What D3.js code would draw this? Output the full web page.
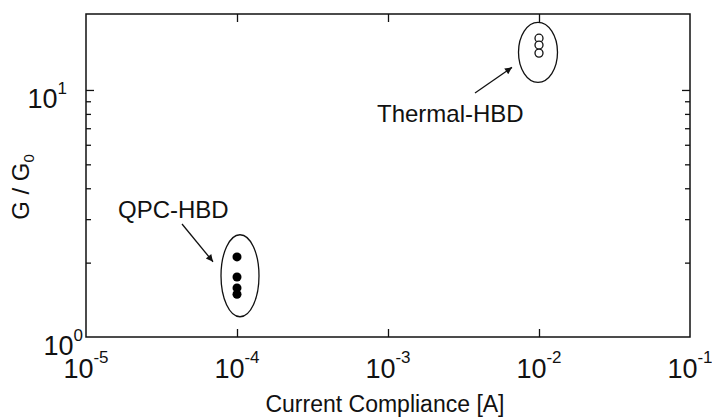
<!DOCTYPE html>
<html>
<head>
<meta charset="utf-8">
<script src="https://cdn.jsdelivr.net/npm/d3@7"></script>
<style>
    body { margin: 0; background: #fff; }
    svg { display: block; font-family: "Liberation Sans", Arial, Helvetica, sans-serif; }
    .axis path { display: none; }
    .axis line { stroke: #111; stroke-width: 1.3; }
</style>
</head>
<body>
<div id="chart"></div>
<script>
// x axis decades (current compliance, A)
const xTicks = [1e-5, 1e-4, 1e-3, 1e-2, 1e-1];
const xExponents = ["-5", "-4", "-3", "-2", "-1"];
// y axis decades (G / G0)
const yTicks = [1, 10];
const yExponents = ["0", "1"];
const yMinorTicks = [2, 3, 4, 5, 6, 7, 8, 9];

// QPC-HBD, filled circles
const qpcCompliance = [1e-4, 1e-4, 1e-4, 1e-4];
const qpcG = [2.11, 1.75, 1.58, 1.49];

// Thermal-HBD, open circles
const thermalCompliance = [1e-2, 1e-2, 1e-2];
const thermalG = [16.2, 15.2, 14.1];

const width = 712, height = 420;
const margin = { left: 86, right: 22, top: 14, bottom: 83 };

const svg = d3.select("#chart").append("svg")
    .attr("width", width)
    .attr("height", height);

const x = d3.scaleLog()
    .domain([1e-5, 1e-1])
    .range([margin.left, width - margin.right]);

const y = d3.scaleLog()
    .domain([1, 20.3])
    .range([height - margin.bottom, margin.top]);

const x0 = margin.left, x1 = width - margin.right;
const y0 = height - margin.bottom, y1 = margin.top;

// inward ticks on all four sides
svg.append("g").attr("class", "axis")
    .attr("transform", `translate(0,${y0})`)
    .call(d3.axisBottom(x).tickValues(xTicks.slice(1, -1)).tickSize(-8).tickFormat(""));
svg.append("g").attr("class", "axis")
    .attr("transform", `translate(0,${y1})`)
    .call(d3.axisTop(x).tickValues(xTicks.slice(1, -1)).tickSize(-8).tickFormat(""));

[["left", d3.axisLeft, x0], ["right", d3.axisRight, x1]].forEach(([side, axisFn, pos]) => {
    svg.append("g").attr("class", "axis")
        .attr("transform", `translate(${pos},0)`)
        .call(axisFn(y).tickValues(yTicks.slice(1)).tickSize(-8).tickFormat(""));
    svg.append("g").attr("class", "axis")
        .attr("transform", `translate(${pos},0)`)
        .call(axisFn(y).tickValues(yMinorTicks).tickSize(-5).tickFormat(""));
});

// frame
svg.append("rect")
    .attr("x", x0)
    .attr("y", y1)
    .attr("width", x1 - x0)
    .attr("height", y0 - y1)
    .attr("fill", "none")
    .attr("stroke", "#111")
    .attr("stroke-width", 1.5);

// x tick labels
xTicks.forEach((v, i) => {
    const t = svg.append("text")
        .attr("x", x(v))
        .attr("y", y0 + 41)
        .attr("text-anchor", "middle")
        .attr("fill", "#111")
        .style("font-size", "27px");
    t.append("tspan").text("10");
    t.append("tspan")
        .attr("dy", -15)
        .style("font-size", "17px")
        .text(xExponents[i]);
});

// y tick labels
yTicks.forEach((v, i) => {
    const t = svg.append("text")
        .attr("x", v === 1 ? x0 - 3 : x0 - 19)
        .attr("y", y(v) + 18)
        .attr("text-anchor", "end")
        .attr("fill", "#111")
        .style("font-size", "27px");
    t.append("tspan").text("10");
    t.append("tspan")
        .attr("dy", -14)
        .style("font-size", "17px")
        .text(yExponents[i]);
});

// axis titles
svg.append("text")
    .attr("x", (x0 + x1) / 2 - 3)
    .attr("y", 412)
    .attr("text-anchor", "middle")
    .attr("fill", "#111")
    .style("font-size", "23px")
    .text("Current Compliance [A]");

const yTitle = svg.append("text")
    .attr("transform", "translate(29,187) rotate(-90)")
    .attr("text-anchor", "middle")
    .attr("fill", "#111")
    .style("font-size", "24px");
yTitle.append("tspan").text("G / G");
yTitle.append("tspan")
    .attr("dy", 5)
    .style("font-size", "15px")
    .text("0");

// data points
svg.selectAll("circle.qpc")
    .data(qpcG.map((g, i) => ({ c: qpcCompliance[i], g })))
    .join("circle")
    .attr("class", "qpc")
    .attr("cx", d => x(d.c))
    .attr("cy", d => y(d.g))
    .attr("r", 4.5)
    .attr("fill", "#000");

svg.selectAll("circle.thermal")
    .data(thermalG.map((g, i) => ({ c: thermalCompliance[i], g })))
    .join("circle")
    .attr("class", "thermal")
    .attr("cx", d => x(d.c))
    .attr("cy", d => y(d.g))
    .attr("r", 4)
    .attr("fill", "#fff")
    .attr("stroke", "#111")
    .attr("stroke-width", 1.3);

// annotations: ellipse around each group, arrow from label
svg.append("defs").append("marker")
    .attr("id", "arrow")
    .attr("viewBox", "0 0 10 10")
    .attr("refX", 10)
    .attr("refY", 5)
    .attr("markerWidth", 11)
    .attr("markerHeight", 7)
    .attr("markerUnits", "userSpaceOnUse")
    .attr("orient", "auto")
    .append("path")
    .attr("d", "M0,0 L10,5 L0,10 z")
    .attr("fill", "#111");

function annotate(cx, cy, rx, ry, label, lx, ly, ax1, ay1, ax2, ay2) {
    svg.append("ellipse")
        .attr("cx", cx)
        .attr("cy", cy)
        .attr("rx", rx)
        .attr("ry", ry)
        .attr("fill", "none")
        .attr("stroke", "#111")
        .attr("stroke-width", 1.3);

    svg.append("line")
        .attr("x1", ax1).attr("y1", ay1)
        .attr("x2", ax2).attr("y2", ay2)
        .attr("stroke", "#111")
        .attr("stroke-width", 1.3)
        .attr("marker-end", "url(#arrow)");

    svg.append("text")
        .attr("x", lx)
        .attr("y", ly)
        .attr("fill", "#111")
        .style("font-size", "24px")
        .text(label);
}

const qx = x(1e-4), qy = y(1.77);
annotate(qx + 3, qy, 19, 41, "QPC-HBD", 118, 218, 182, 224, qx - 24, qy - 14);

const tx = x(1e-2), ty = y(14.2);
annotate(tx - 1, ty, 19.5, 30, "Thermal-HBD", 377, 122, 475, 93, tx - 27, ty + 15);
</script>
</body>
</html>
